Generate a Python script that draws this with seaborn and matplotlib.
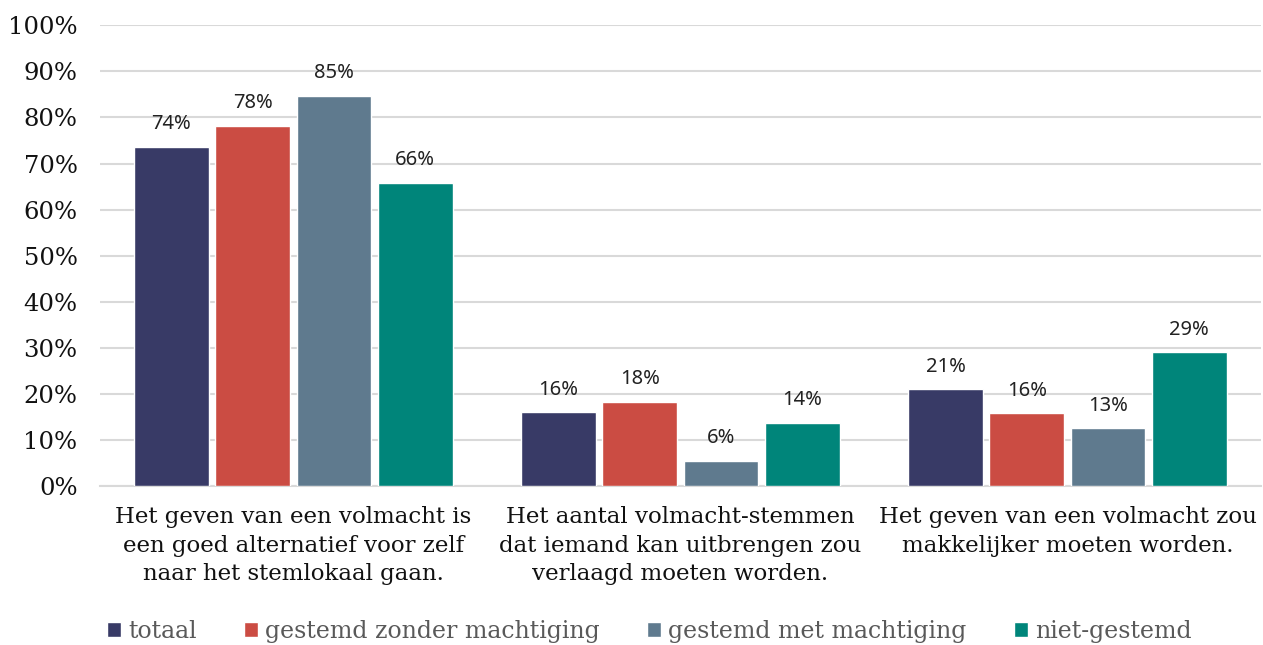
import pandas as pd
import numpy as np
import matplotlib.pyplot as plt
import seaborn as sns

# data
categories = [
    "Het geven van een volmacht is\neen goed alternatief voor zelf\nnaar het stemlokaal gaan.",
    "Het aantal volmacht-stemmen\ndat iemand kan uitbrengen zou\nverlaagd moeten worden.",
    "Het geven van een volmacht zou\nmakkelijker moeten worden.",
]
groups = ["totaal", "gestemd zonder machtiging", "gestemd met machtiging", "niet-gestemd"]
totaal = [73.6, 16.1, 21.0]
zonder = [78.2, 18.3, 15.8]
met = [84.7, 5.6, 12.6]
niet = [65.8, 13.8, 29.1]
colors = ["#383A66", "#CB4C43", "#5F7A8E", "#00857A"]

rows = []
for g, vals in zip(groups, [totaal, zonder, met, niet]):
    for c, v in zip(categories, vals):
        rows.append({"cat": c, "groep": g, "pct": v})
df = pd.DataFrame(rows)

sns.set_style("white")
plt.rcParams['font.family'] = ['DejaVu Serif']

fig, ax = plt.subplots(figsize=(12.63, 6.45), dpi=100)
fig.subplots_adjust(left=0.079, right=0.9984, top=0.961, bottom=0.246)

sns.barplot(data=df, x="cat", y="pct", hue="groep", hue_order=groups,
            palette=colors, saturation=1, width=0.84, gap=0.08, ax=ax, zorder=3)

for cont in ax.containers:
    ax.bar_label(cont, labels=[f"{v:.0f}%" for v in cont.datavalues],
                 padding=9, fontsize=14.5, family='Noto Sans', color='#222222')

ax.set_ylim(0, 100)
ax.set_xlim(-0.5, 2.5)
ax.set_yticks(np.arange(0, 101, 10))
ax.set_yticklabels([f"{t}%" for t in range(0, 101, 10)], fontsize=17.5, color='#111111')
ax.tick_params(axis='x', labelsize=16.5, colors='#111111', length=0, pad=14)
ax.tick_params(axis='y', length=0, pad=16)
for lab in ax.get_xticklabels():
    lab.set_linespacing(1.4)
ax.set_xlabel("")
ax.set_ylabel("")
ax.yaxis.grid(True, color='#D9D9D9', linewidth=1.5, zorder=0)
for s in ['top', 'right', 'left']:
    ax.spines[s].set_visible(False)
ax.spines['bottom'].set_color('#D9D9D9')
ax.spines['bottom'].set_linewidth(1.5)

handles, labels = ax.get_legend_handles_labels()
ax.legend(handles, labels, loc='lower center', bbox_to_anchor=(0.514, 0.0),
          bbox_transform=fig.transFigure, ncol=4, frameon=False, borderpad=0.1,
          borderaxespad=0, fontsize=17, labelcolor='#595959',
          handlelength=0.6, handleheight=0.6, handletextpad=0.3, columnspacing=2.0)

plt.savefig("out.png", dpi=100)
